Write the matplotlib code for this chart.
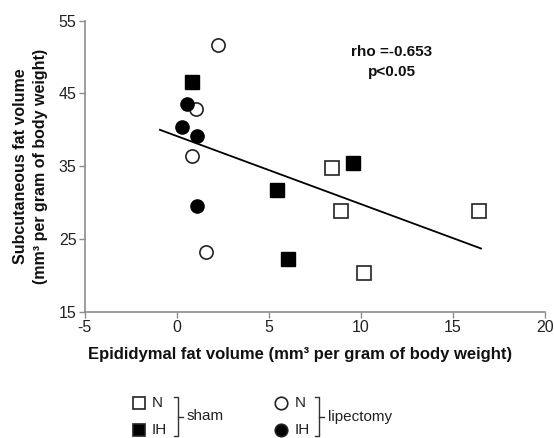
import matplotlib
matplotlib.use("Agg")
import matplotlib.pyplot as plt
from matplotlib.lines import Line2D

plt.rcParams['font.family'] = ['Liberation Sans', 'DejaVu Sans']
plt.rcParams['axes.unicode_minus'] = False

# sham N (open squares)
sham_n_x = [8.4, 8.9, 10.15, 16.4]
sham_n_y = [34.7, 28.8, 20.4, 28.8]
# sham IH (filled squares)
sham_ih_x = [0.85, 5.45, 9.57, 6.02]
sham_ih_y = [46.6, 31.7, 35.5, 22.2]
# lipectomy N (open circles)
lip_n_x = [2.21, 1.03, 0.8, 1.56]
lip_n_y = [51.7, 42.9, 36.4, 23.2]
# lipectomy IH (filled circles)
lip_ih_x = [0.53, 0.27, 1.07, 1.1]
lip_ih_y = [43.6, 40.4, 39.1, 29.5]
# regression line end points
fit_x = [-0.92, 16.52]
fit_y = [40.0, 23.7]

xticks = [-5, 0, 5, 10, 15, 20]
yticks = [15, 25, 35, 45, 55]

fig = plt.figure(figsize=(5.54, 4.38), dpi=100)
ax = fig.add_axes([0.153, 0.288, 0.831, 0.665])

gray = '#8c8c8c'
ms = 9.5
ax.plot(fit_x, fit_y, color='black', lw=1.3, zorder=2)
ax.plot(sham_n_x, sham_n_y, 's', ms=ms, mfc='white', mec='#222222', mew=1.2, zorder=3)
ax.plot(sham_ih_x, sham_ih_y, 's', ms=ms, mfc='black', mec='black', zorder=3)
ax.plot(lip_n_x, lip_n_y, 'o', ms=ms, mfc='white', mec='#222222', mew=1.2, zorder=3)
ax.plot(lip_ih_x, lip_ih_y, 'o', ms=ms, mfc='black', mec='black', zorder=3)

ax.set_xlim(-5, 20)
ax.set_ylim(15, 55)
ax.set_xticks(xticks)
ax.set_yticks(yticks)
ax.tick_params(labelsize=11.5, color=gray, length=4, width=1, pad=2, labelcolor='#222222')
for s in ['top', 'right']:
    ax.spines[s].set_visible(False)
for s in ['left', 'bottom']:
    ax.spines[s].set_color(gray)
    ax.spines[s].set_linewidth(1.2)

ax.set_xlabel('Epididymal fat volume (mm\u00b3 per gram of body weight)',
              fontsize=12, fontweight='bold', color='#111111', va='center')
ax.xaxis.set_label_coords(0.467, -0.148)
ax.set_ylabel('Subcutaneous fat volume\n(mm\u00b3 per gram of body weight)',
              fontsize=11.5, fontweight='bold', color='#111111',
              linespacing=1.45, va='center')
ax.yaxis.set_label_coords(-0.118, 0.5)

ax.text(11.67, 50.7, 'rho =-0.653', ha='center', va='center',
        fontsize=11, fontweight='bold', color='#111111')
ax.text(11.67, 48.0, 'p<0.05', ha='center', va='center',
        fontsize=11, fontweight='bold', color='#111111')

# legend drawn in figure pixel space
W, H = 554, 438
def fx(px):
    return px / W
def fy(py):
    return 1 - py / H

def marker(px, py, m, fill):
    fig.add_artist(Line2D([fx(px)], [fy(py)], marker=m, ms=9, mfc=fill,
                          mec='#222222', mew=1.2, transform=fig.transFigure))

def bracket(px, top, bot, label):
    fig.add_artist(Line2D([fx(px - 4), fx(px), fx(px), fx(px - 4)],
                          [fy(top), fy(top), fy(bot), fy(bot)],
                          color='#333333', lw=1, transform=fig.transFigure))
    mid = (top + bot) / 2
    fig.add_artist(Line2D([fx(px), fx(px + 5)], [fy(mid), fy(mid)],
                          color='#333333', lw=1, transform=fig.transFigure))
    fig.text(fx(px + 9), fy(mid), label, fontsize=11, va='center', color='#222222')

marker(139, 403, 's', 'white')
marker(139, 430, 's', 'black')
fig.text(fx(152), fy(403), 'N', fontsize=11, va='center', color='#222222')
fig.text(fx(152), fy(430), 'IH', fontsize=11, va='center', color='#222222')
bracket(178, 397, 436, 'sham')

marker(281, 403, 'o', 'white')
marker(281, 430, 'o', 'black')
fig.text(fx(295), fy(403), 'N', fontsize=11, va='center', color='#222222')
fig.text(fx(295), fy(430), 'IH', fontsize=11, va='center', color='#222222')
bracket(319, 397, 436, 'lipectomy')

fig.savefig('out.png', dpi=100)
